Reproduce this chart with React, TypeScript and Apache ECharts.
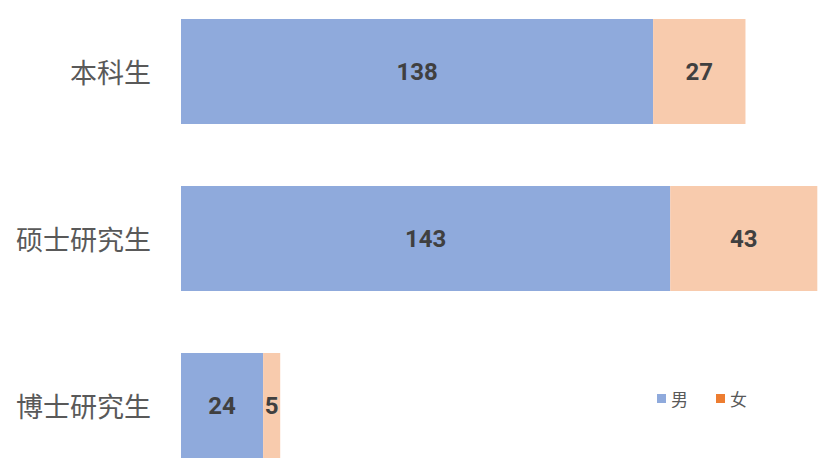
import React, { useEffect, useRef } from "react";
import * as echarts from "echarts";

const categories = ["本科生", "硕士研究生", "博士研究生"];
const maleValues = [138, 143, 24];
const femaleValues = [27, 43, 5];
const seriesNames = ["男", "女"];

export default function App() {
  const ref = useRef<HTMLDivElement>(null);
  useEffect(() => {
    const chart = echarts.init(ref.current!, null, { renderer: "svg" });
    const labelStyle = {
      show: true,
      position: "inside",
      color: "#404040",
      fontSize: 24,
      fontWeight: "bold",
      fontFamily: "Roboto, 'Noto Sans', sans-serif",
    };
    chart.setOption({
      animation: false,
      backgroundColor: "#ffffff",
      grid: { left: 181, top: 0, width: 650, bottom: 0 },
      xAxis: {
        type: "value",
        min: 0,
        max: 190,
        show: false,
      },
      yAxis: {
        type: "category",
        data: categories,
        inverse: true,
        axisLine: { show: false },
        axisTick: { show: false },
        axisLabel: {
          color: "#595959",
          fontSize: 27,
          margin: 30,
          fontFamily: "'Noto Sans CJK SC', sans-serif",
        },
      },
      legend: {
        left: 652,
        top: 397,
        itemWidth: 9,
        itemHeight: 9,
        itemGap: 28,
        icon: "rect",
        textStyle: {
          color: "#595959",
          fontSize: 17,
          fontFamily: "'Noto Sans CJK SC', sans-serif",
        },
        data: [
          { name: seriesNames[0], itemStyle: { color: "#8FAADC" } },
          { name: seriesNames[1], itemStyle: { color: "#ED7D31" } },
        ],
      },
      series: [
        {
          name: seriesNames[0],
          type: "bar",
          stack: "total",
          data: maleValues,
          barCategoryGap: "37%",
          itemStyle: { color: "#8FAADC" },
          label: labelStyle,
        },
        {
          name: seriesNames[1],
          type: "bar",
          stack: "total",
          data: femaleValues,
          barCategoryGap: "37%",
          itemStyle: { color: "#F8CBAD" },
          label: labelStyle,
        },
      ],
    });
    return () => chart.dispose();
  }, []);
  return (
    <div style={{ position: "absolute", left: 0, top: 0, width: 832, height: 465, overflow: "hidden", background: "#fff" }}>
      <div ref={ref} style={{ width: 832, height: 501, position: "absolute", left: 0, top: -12 }} />
    </div>
  );
}
